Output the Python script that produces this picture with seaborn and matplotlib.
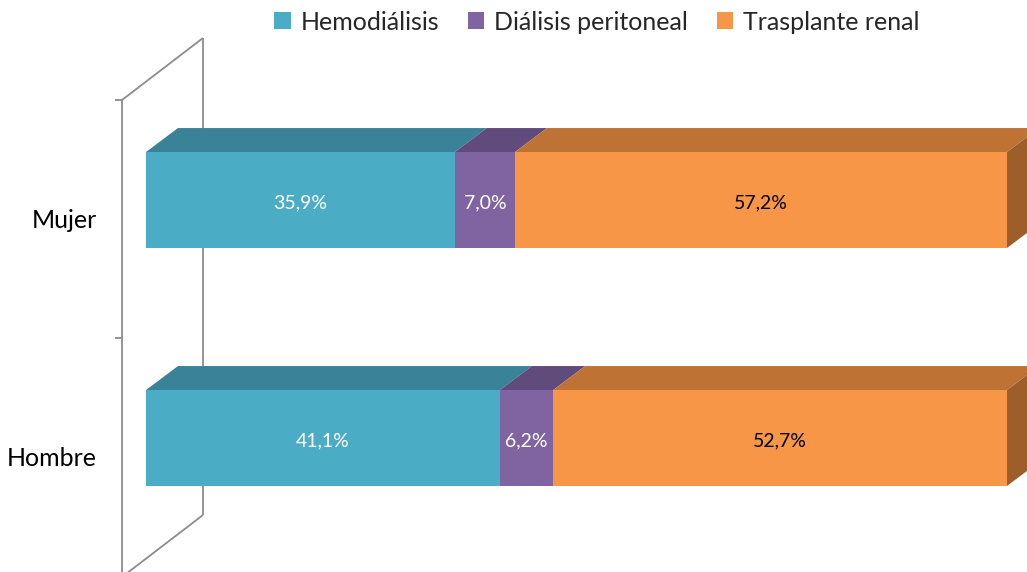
import numpy as np
import pandas as pd
import matplotlib.pyplot as plt
import seaborn as sns
from matplotlib.patches import Polygon, Patch

# datos del grafico
sexo = ['Mujer', 'Hombre']
modalidades = ['Hemodiálisis', 'Diálisis peritoneal', 'Trasplante renal']
hemodialisis = [35.9, 41.1]
dialisis_peritoneal = [7.0, 6.2]
trasplante = [57.2, 52.7]

col_frente = ['#4BACC6', '#8064A2', '#F79646']
col_arriba = ['#3A8297', '#614B7C', '#BE7334']
col_lado = '#9D5E2B'
col_texto = ['white', 'white', 'black']

sns.set_theme(style='white')
plt.rcParams['font.family'] = ['Lato', 'DejaVu Sans']

W, H = 1027, 572
fig = plt.figure(figsize=(W / 100, H / 100), dpi=100)
ax = fig.add_axes([0, 0, 1, 1])

df = pd.DataFrame({'sexo': sexo, 'hd': hemodialisis, 'dp': dialisis_peritoneal, 'tx': trasplante})
total = df[['hd', 'dp', 'tx']].sum(axis=1)
cols = ['hd', 'dp', 'tx']
ini = {}
fin = {}
acum = 0
for c in cols:
    ini[c] = acum / total * 100
    acum = acum + df[c]
    fin[c] = acum / total * 100
    df['fin_' + c] = fin[c]

alto = 0.403
# stacked: draw cumulative bars from the longest to the shortest
for i in reversed(range(3)):
    sns.barplot(data=df, x='fin_' + cols[i], y='sexo', order=sexo, color=col_frente[i],
                saturation=1, width=alto, edgecolor='none', linewidth=0, ax=ax, zorder=3)

# escala: 0 -> px 146, 100 -> px 1007 ; Mujer -> px 200, Hombre -> px 438
ux = 861 / 100
uy = 238
ax.set_xlim(-146 / ux, (W - 146) / ux)
ax.set_ylim((H - 200) / uy, -200 / uy)
ax.axis('off')

dx = 32 / ux
dy = 24 / uy
h = alto / 2
for j in range(len(sexo)):
    for i, c in enumerate(cols):
        a = ini[c][j]
        b = fin[c][j]
        ax.add_patch(Polygon([(a, j - h), (a + dx, j - h - dy), (b + dx, j - h - dy), (b, j - h)],
                             closed=True, facecolor=col_arriba[i], edgecolor='none', zorder=2))
        val = df[c][j]
        ax.text((a + b) / 2, j + 0.01, f'{val:.1f}%'.replace('.', ','), ha='center', va='center',
                color=col_texto[i], fontsize=14, zorder=5)
    b = fin['tx'][j]
    ax.add_patch(Polygon([(b, j - h), (b + dx, j - h - dy), (b + dx, j + h - dy), (b, j + h)],
                         closed=True, facecolor=col_lado, edgecolor='none', zorder=2))
    ax.text(-49 / ux, j + 0.085, sexo[j], ha='right', va='center', fontsize=18, color='black')


# pared lateral del grafico 3D (en pixeles)
def px(x, y):
    return x / W, 1 - y / H


lineas = [
    [(122, 100), (122, 580)],
    [(115, 100), (122, 100)],
    [(115, 338), (122, 338)],
    [(115, 576), (122, 576)],
    [(203, 38), (203, 515)],
    [(122, 100), (203, 38)],
    [(122, 577), (203, 515)],
]
for seg in lineas:
    xs, ys = zip(*[px(*p) for p in seg])
    ax.plot(xs, ys, color='#8C8C8C', lw=1.3, transform=ax.transAxes, zorder=0,
            solid_capstyle='butt')

handles = [Patch(facecolor=col_frente[i], edgecolor='none', label=modalidades[i]) for i in range(3)]
fig.legend(handles=handles, loc='center', bbox_to_anchor=(597 / W, 1 - 22 / H), ncol=3,
           frameon=False, fontsize=18, handlelength=0.65, handleheight=0.65, handletextpad=0.4,
           columnspacing=1.15)

fig.savefig('out.png', dpi=100)
